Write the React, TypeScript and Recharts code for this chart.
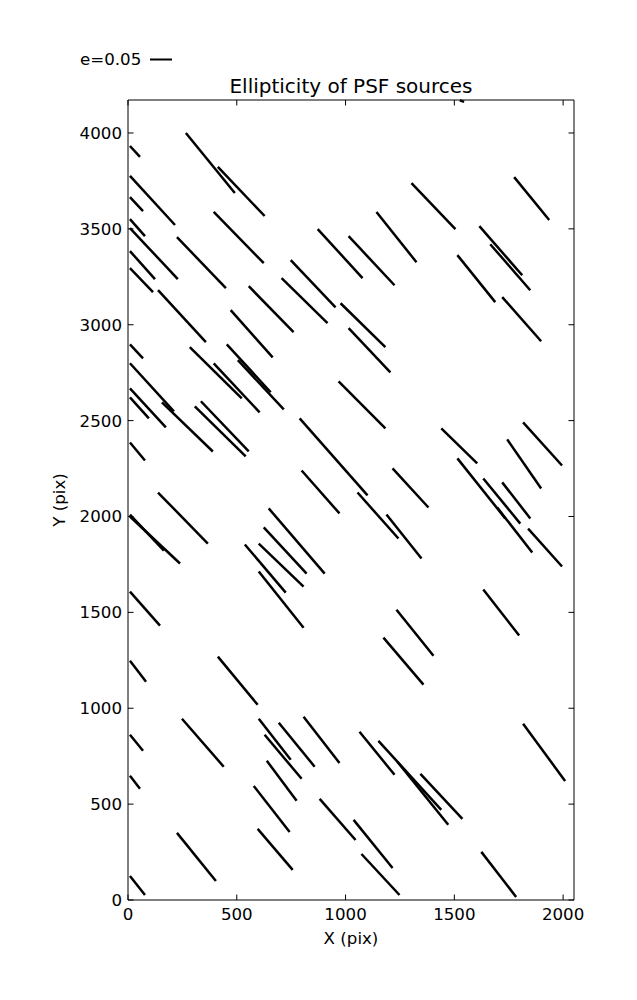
import React from 'react';
import { ScatterChart, XAxis, YAxis, ReferenceLine } from 'recharts';

const TITLE = 'Ellipticity of PSF sources';
const X_LABEL = 'X (pix)';
const Y_LABEL = 'Y (pix)';
const LEGEND_LABEL = 'e=0.05';

const xTicks = [0, 500, 1000, 1500, 2000];
const yTicks = [0, 500, 1000, 1500, 2000, 2500, 3000, 3500, 4000];
const xDomain = [0, 2050];
const yDomain = [0, 4172];

// whisker segments: start (x, y) and end (x, y) in pixel-of-detector units
const xStart = [266, 413, 9, 9, 9, 9, 9, 9, 9, 138, 225, 394, 555, 706, 748, 872, 1014, 1142, 1303, 1775, 1615, 1665, 1514, 1720, 977, 1014, 472, 9, 284, 454, 505, 394, 9, 9, 9, 156, 335, 307, 9, 968, 789, 1440, 1816, 1743, 1514, 1633, 1720, 1697, 1839, 798, 1055, 1216, 1188, 138, 9, 9, 647, 624, 601, 537, 601, 9, 9, 413, 1633, 1234, 1174, 248, 9, 9, 601, 628, 693, 807, 638, 578, 881, 225, 596, 9, 1064, 1151, 1238, 1344, 1816, 1037, 1073, 1624, 1525];
const yStart = [4000, 3823, 3932, 3776, 3666, 3551, 3504, 3384, 3295, 3180, 3457, 3588, 3201, 3243, 3337, 3499, 3462, 3588, 3739, 3770, 3514, 3420, 3363, 3144, 3112, 2982, 3076, 2898, 2883, 2898, 2815, 2799, 2799, 2668, 2621, 2595, 2601, 2574, 2386, 2705, 2512, 2460, 2491, 2402, 2303, 2198, 2178, 2047, 1937, 2240, 2125, 2251, 2010, 2125, 2010, 2000, 2042, 1943, 1859, 1854, 1713, 1608, 1248, 1269, 1619, 1514, 1368, 945, 862, 648, 945, 862, 924, 956, 726, 595, 527, 350, 371, 125, 877, 830, 721, 658, 919, 418, 240, 251, 4170];
const xEnd = [491, 628, 55, 216, 69, 78, 229, 124, 115, 358, 450, 624, 761, 917, 954, 1078, 1225, 1326, 1505, 1936, 1812, 1849, 1688, 1899, 1183, 1206, 665, 69, 523, 656, 716, 605, 211, 174, 96, 390, 555, 541, 78, 1183, 1101, 1605, 1995, 1899, 1734, 1803, 1849, 1858, 1995, 972, 1243, 1381, 1349, 367, 165, 239, 904, 821, 807, 725, 807, 147, 83, 596, 1798, 1404, 1358, 440, 69, 55, 748, 798, 858, 972, 775, 743, 1046, 404, 757, 78, 1225, 1440, 1472, 1537, 2009, 1216, 1248, 1784, 1545];
const yEnd = [3687, 3567, 3875, 3520, 3593, 3462, 3238, 3238, 3170, 2909, 3191, 3321, 2961, 3008, 3091, 3243, 3206, 3326, 3499, 3546, 3258, 3180, 3118, 2914, 2883, 2752, 2830, 2825, 2616, 2648, 2559, 2543, 2548, 2465, 2512, 2339, 2339, 2313, 2292, 2460, 2110, 2277, 2266, 2146, 1990, 1963, 1990, 1812, 1739, 2016, 1885, 2047, 1781, 1859, 1822, 1755, 1702, 1702, 1634, 1603, 1420, 1431, 1138, 1018, 1379, 1274, 1123, 695, 778, 580, 731, 632, 695, 715, 517, 355, 313, 99, 157, 26, 653, 470, 392, 423, 621, 167, 26, 16, 4162];

const FONT = '"DejaVu Sans", sans-serif';
const FS = 16.67;

const BottomTick = (props: any) => {
  const { x, y, payload } = props;
  return (
    <g>
      <line x1={x} y1={y} x2={x} y2={y - 5.5} stroke="#000" strokeWidth={1} />
      <text x={x} y={y + 20} textAnchor="middle" fontFamily={FONT} fontSize={FS} fill="#000">
        {payload.value}
      </text>
    </g>
  );
};

const TopTick = (props: any) => {
  const { x, y } = props;
  return <line x1={x} y1={y} x2={x} y2={y + 5.5} stroke="#000" strokeWidth={1} />;
};

const LeftTick = (props: any) => {
  const { x, y, payload } = props;
  return (
    <g>
      <line x1={x} y1={y} x2={x + 5.5} y2={y} stroke="#000" strokeWidth={1} />
      <text x={x - 6} y={y + 6} textAnchor="end" fontFamily={FONT} fontSize={FS} fill="#000">
        {payload.value}
      </text>
    </g>
  );
};

const RightTick = (props: any) => {
  const { x, y } = props;
  return <line x1={x} y1={y} x2={x - 5.5} y2={y} stroke="#000" strokeWidth={1} />;
};

export default function App() {
  return (
    <div style={{ position: 'absolute', left: 0, top: 0, width: 637, height: 1000, background: '#fff' }}>
      <ScatterChart width={637} height={1000} margin={{ top: 90, right: 53, bottom: 60, left: 68 }}>
        <XAxis
          xAxisId={0}
          type="number"
          dataKey="x"
          domain={xDomain}
          ticks={xTicks}
          orientation="bottom"
          height={40}
          tickSize={0}
          tickMargin={0}
          tickLine={false}
          axisLine={{ stroke: '#000', strokeWidth: 1 }}
          tick={<BottomTick />}
          allowDataOverflow
        />
        <XAxis
          xAxisId="top"
          type="number"
          dataKey="x"
          domain={xDomain}
          ticks={xTicks}
          orientation="top"
          height={10}
          tickSize={0}
          tickMargin={0}
          tickLine={false}
          axisLine={{ stroke: '#000', strokeWidth: 1 }}
          tick={<TopTick />}
          allowDataOverflow
        />
        <YAxis
          yAxisId={0}
          type="number"
          dataKey="y"
          domain={yDomain}
          ticks={yTicks}
          orientation="left"
          width={60}
          tickSize={0}
          tickMargin={0}
          tickLine={false}
          axisLine={{ stroke: '#000', strokeWidth: 1 }}
          tick={<LeftTick />}
          allowDataOverflow
        />
        <YAxis
          yAxisId="right"
          type="number"
          dataKey="y"
          domain={yDomain}
          ticks={yTicks}
          orientation="right"
          width={10}
          tickSize={0}
          tickMargin={0}
          tickLine={false}
          axisLine={{ stroke: '#000', strokeWidth: 1 }}
          tick={<RightTick />}
          allowDataOverflow
        />
        {xStart.map((xs, i) => (
          <ReferenceLine
            key={i}
            xAxisId={0}
            yAxisId={0}
            segment={[
              { x: xs, y: yStart[i] },
              { x: xEnd[i], y: yEnd[i] },
            ]}
            stroke="#000"
            strokeWidth={2.5}
          />
        ))}
      </ScatterChart>
      <svg
        width={637}
        height={1000}
        style={{ position: 'absolute', left: 0, top: 0, pointerEvents: 'none' }}
      >
        <text x={351} y={93} textAnchor="middle" fontFamily={FONT} fontSize={20} fill="#000">
          {TITLE}
        </text>
        <text x={351} y={944} textAnchor="middle" fontFamily={FONT} fontSize={FS} fill="#000">
          {X_LABEL}
        </text>
        <text
          x={0}
          y={0}
          transform="translate(65,500) rotate(-90)"
          textAnchor="middle"
          fontFamily={FONT}
          fontSize={FS}
          fill="#000"
        >
          {Y_LABEL}
        </text>
        <text x={80} y={65} fontFamily={FONT} fontSize={FS} fill="#000">
          {LEGEND_LABEL}
        </text>
        <line x1={150} y1={59.5} x2={172} y2={59.5} stroke="#000" strokeWidth={2} />
      </svg>
    </div>
  );
}
